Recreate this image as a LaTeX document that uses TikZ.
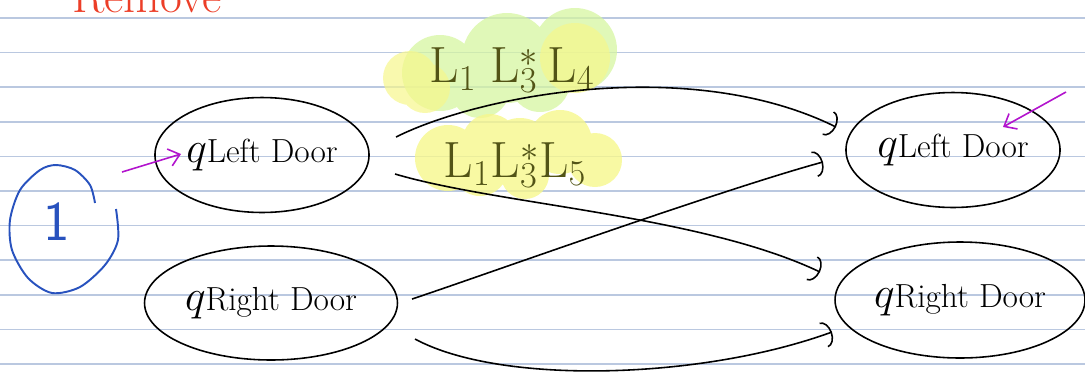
\documentclass[tikz,border=0pt]{standalone}
\usetikzlibrary{arrows.meta,shapes.geometric}
\definecolor{ruleblue}{RGB}{186,200,224}
\definecolor{penred}{RGB}{236,62,40}
\definecolor{penblue}{RGB}{40,82,190}
\definecolor{penpurple}{RGB}{178,20,205}
\definecolor{penolive}{RGB}{82,84,22}
\definecolor{hlyellow}{RGB}{246,247,140}
\definecolor{hlgreen}{RGB}{214,245,160}
\newcommand{\qsym}{{\fontsize{25}{27}\selectfont$q$}}
\begin{document}
\begin{tikzpicture}[x=0.02cm,y=-0.02cm,
  door/.style={draw,ellipse,line width=0.9pt,inner sep=0pt,font=\fontsize{19}{22}\selectfont},
  link/.style={line width=0.9pt,-{Arc Barb[length=5pt,width=15pt]}},
  pointer/.style={penpurple,line width=0.9pt,-{Straight Barb[length=6pt,width=10pt]}},
  lword/.style={text=penolive,font=\fontsize{29}{32}\selectfont}]
\useasboundingbox (0,0) rectangle (1085,373);
\clip (0,0) rectangle (1085,373);

% paper lines
\foreach \k in {0,...,10}
  \draw[ruleblue,line width=1pt] (0,{18+34.6*\k}) -- (1085,{18+34.6*\k});

% highlighter
\fill[hlgreen,fill opacity=.75] (440,73) circle (38) (507,58) circle (45) (575,50) circle (42)
  (480,88) circle (30) (540,82) circle (30);
\fill[hlyellow,fill opacity=.7] (410,78) circle (27) (425,88) circle (25) (575,58) circle (35);
\fill[hlyellow,fill opacity=.8] (448,158) circle (33) (490,142) circle (28) (560,142) circle (32)
  (595,160) circle (27) (525,175) circle (24) (520,152) circle (34) (480,168) circle (28);

\node[text=penred,font=\fontsize{27}{30}\selectfont,anchor=base west] (remove) at (66,12) {Remove};
\node[lword] (word1) at (512,70) {L$_1$\;L$_3^{*}$\,L$_4$};
\node[lword] (word2) at (515,165) {L$_1$L$_3^{*}$L$_5$};

% states
\node[door,minimum width=4.14cm,minimum height=2.3cm] (ll) at (262,155) {\qsym Left Door};
\node[door,minimum width=5.06cm,minimum height=2.28cm] (lr) at (271,303) {\qsym Right Door};
\node[door,minimum width=4.2cm,minimum height=2.3cm] (rl) at (953,150) {\qsym Left Door};
\node[door,minimum width=5cm,minimum height=2.32cm] (rr) at (960,300) {\qsym Right Door};

% transitions
\draw[link] ([shift={(134,-18)}]ll.center) .. controls (480,95) and (690,55) .. ([shift={(-117,-23)}]rl.center);
\draw[link] ([shift={(133,19)}]ll.center) .. controls (500,205) and (700,215) .. ([shift={(-140,-28)}]rr.center);
\draw[link] ([shift={(141,-4)}]lr.center) .. controls (470,280) and (720,190) .. ([shift={(-130,12)}]rl.center);
\draw[link] ([shift={(144,36)}]lr.center) .. controls (500,385) and (700,380) .. ([shift={(-128,32)}]rr.center);

% step count
\node[text=penblue,font=\sffamily\fontsize{32}{34}\selectfont] (one) at (57,222) {1};
\draw[penblue,line width=1.1pt] plot[smooth] coordinates {(116,209) (118,240) (105,265) (80,287) (52,293)
  (28,278) (12,250) (10,220) (20,190) (40,170) (56,165) (75,170) (90,185) (95,203)};

% start and accept marks
\coordinate (init) at (122,172);
\coordinate (accept) at (1066,92);
\draw[pointer] (init) -- ([shift={(-81,-1)}]ll.center);
\draw[pointer] (accept) -- ([shift={(50,-23)}]rl.center);
\end{tikzpicture}
\end{document}
